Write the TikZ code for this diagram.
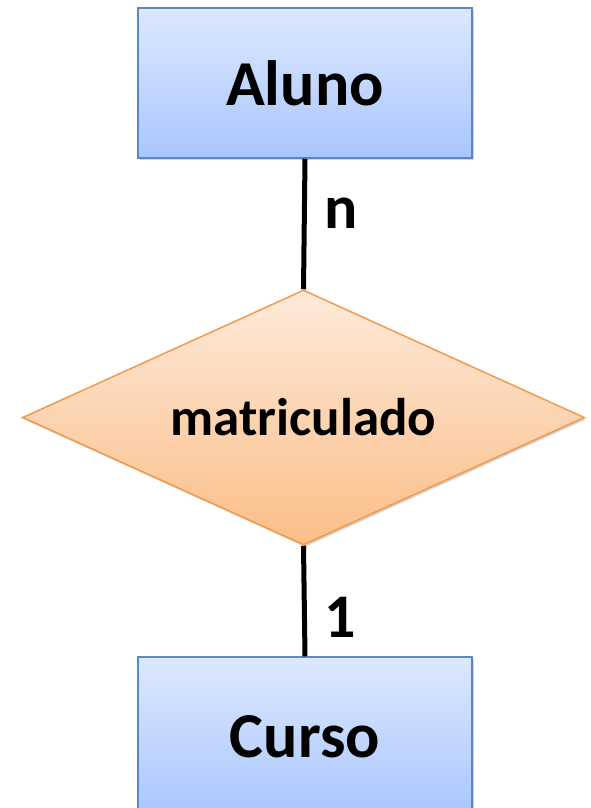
\documentclass[tikz,border=0pt]{standalone}
\usepackage{fontspec}
\setmainfont{Carlito}
\usetikzlibrary{shapes.geometric,shadows}
\definecolor{boxtop}{HTML}{DDE8FE}
\definecolor{boxbot}{HTML}{A9C6FD}
\definecolor{boxedge}{HTML}{5B87C6}
\definecolor{diatop}{HTML}{FDEADA}
\definecolor{diabot}{HTML}{FBBE88}
\definecolor{diaedge}{HTML}{F39A4A}
\tikzset{
  entity/.style={rectangle, draw=boxedge, line width=1.5pt, top color=boxtop, bottom color=boxbot,
    minimum width=334pt, minimum height=150pt, inner sep=0pt,
    font=\fontsize{64}{66}\selectfont\bfseries,
    drop shadow={opacity=0.35, shadow xshift=1.5pt, shadow yshift=-2pt}},
  relation/.style={diamond, draw=diaedge, line width=1.5pt, top color=diatop, bottom color=diabot,
    minimum width=562pt, minimum height=255pt, aspect=2.2, inner sep=0pt,
    font=\fontsize{53}{55}\selectfont\bfseries,
    drop shadow={opacity=0.35, shadow xshift=1.5pt, shadow yshift=-2pt}},
  link/.style={line width=5pt, black},
  card/.style={font=\fontsize{62}{64}\selectfont\bfseries, inner sep=0pt}
}
\begin{document}
\begin{tikzpicture}[x=1pt,y=-1pt]
\useasboundingbox (0,0) rectangle (590,808);
\node[entity] (aluno) at (305,83) {Aluno};
\node[relation] (rel) at (303.5,417.5) {matriculado};
\node[entity, minimum height=160pt] (curso) at (305,737) {Curso};
\draw[link] (aluno.south) -- (rel.north);
\draw[link] (rel.south) -- (curso.north);
\node[card] (n) at (341,213.5) {n};
\node[card] (one) at (340,617.5) {1};
\end{tikzpicture}
\end{document}
